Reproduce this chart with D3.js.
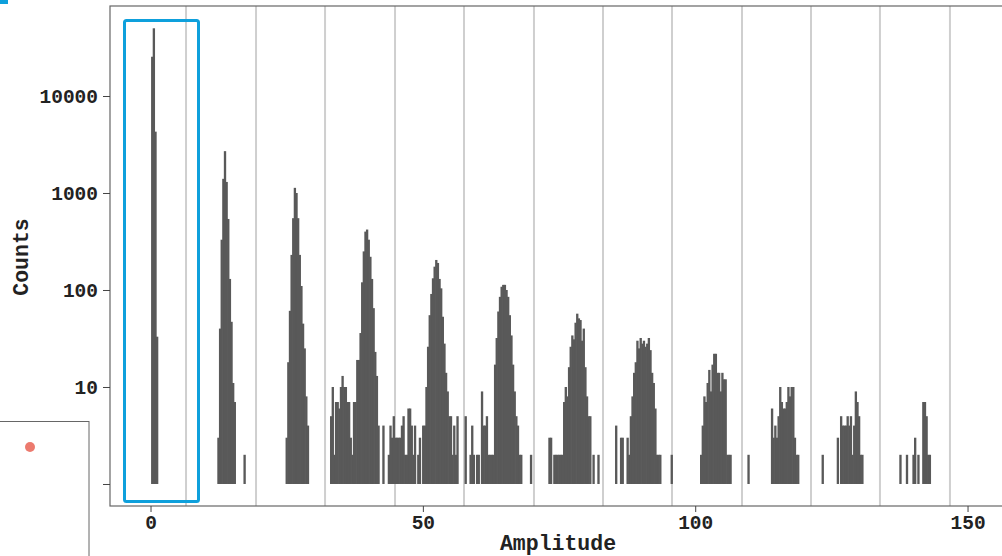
<!DOCTYPE html>
<html>
<head>
<meta charset="utf-8">
<script src="https://cdn.jsdelivr.net/npm/d3@7"></script>
<style>
  body { margin: 0; background: #fff; }
  svg { display: block; }
  .axis text { font-family: "Liberation Mono", "Courier New", monospace; font-weight: bold; font-size: 19.5px; fill: #222; }
  .axis line { stroke: #444; }
  .axis path { stroke: none; }
  .title { font-family: "Liberation Mono", "Courier New", monospace; font-weight: bold; font-size: 21.5px; fill: #222; }
</style>
</head>
<body>
<svg></svg>
<script>
const width = 1002;
const height = 556;

// histogram, bin width in amplitude units
const binWidth = 0.3;

// left edge (amplitude) of each run of bins
const clusterStarts = [0.1, 12.26, 24.79, 32.95, 43.55, 57.65, 73.03, 85.28, 100.88, 113.9, 125.98, 137.47];

// counts per bin, one array per photo-electron peak
const pe0 = [25400, 49900, 4290, 33];
const pe1 = [3, 40, 330, 1400, 2700, 1300, 540, 130, 47, 11, 7, 0, 0, 0, 0, 0, 2];
const pe2 = [3, 18, 61, 230, 550, 1130, 1000, 550, 230, 110, 45, 25, 8, 4];
const pe3 = [5, 10, 2, 7, 7, 6, 10, 13, 10, 10, 7, 7, 3, 2, 7, 7, 19, 19, 36, 120, 250, 400, 420, 330, 220, 130, 65, 23, 13, 4, 0, 0, 4];
const pe4 = [2, 4, 3, 5, 3, 3, 3, 3, 4, 5, 2, 2, 6, 6, 4, 2, 4, 0, 2, 3, 0, 4, 4, 10, 26, 55, 91, 132, 174, 204, 190, 130, 104, 53, 28, 14, 9, 5, 5, 2, 4, 2, 5];
const pe5 = [5, 0, 0, 2, 4, 2, 0, 2, 2, 0, 9, 4, 4, 5, 2, 2, 2, 2, 17, 32, 60, 85, 108, 113, 113, 100, 85, 55, 34, 17, 9, 5, 4, 2, 2, 0, 0, 0, 0, 0, 2];
const pe6 = [3, 3, 0, 2, 2, 2, 2, 2, 2, 7, 10, 8, 16, 26, 34, 31, 46, 57, 51, 49, 30, 40, 16, 8, 5, 5, 0, 2, 0, 0, 2];
const pe7 = [4, 0, 0, 3, 3, 0, 0, 3, 2, 5, 8, 14, 18, 30, 25, 32, 28, 30, 26, 28, 32, 24, 14, 11, 6, 2, 2, 2, 0, 0, 0, 0, 0, 0, 2];
const pe8 = [2, 4, 8, 7, 11, 15, 9, 17, 22, 22, 14, 14, 9, 14, 12, 12, 2, 2, 2, 0, 0, 0, 0, 0, 0, 0, 0, 0, 0, 2];
const pe9 = [6, 3, 4, 3, 5, 10, 7, 6, 6, 7, 10, 8, 10, 10, 3, 2, 2, 0, 0, 0, 0, 0, 0, 0, 0, 0, 0, 0, 0, 0, 0, 2];
const pe10 = [3, 0, 5, 4, 4, 4, 5, 4, 5, 2, 4, 9, 7, 5, 2, 2];
const pe11 = [2, 0, 0, 0, 2, 0, 0, 0, 2, 3, 0, 2, 0, 0, 7, 7, 5, 2, 2];

const clusters = [pe0, pe1, pe2, pe3, pe4, pe5, pe6, pe7, pe8, pe9, pe10, pe11];

// vertical reference lines between peaks
const gridAmps = [6.52, 19.37, 32.04, 44.89, 57.55, 70.4, 83.07, 95.74, 108.59, 121.26, 133.92, 146.77];

const xTicks = [0, 50, 100, 150];
const yTicks = [1, 10, 100, 1000, 10000];

const bins = [];
clusters.forEach((arr, ci) => {
    arr.forEach((c, i) => {
        if (c > 1) bins.push({x0: clusterStarts[ci] + i * binWidth, x1: clusterStarts[ci] + (i + 1) * binWidth, count: c});
    });
});

const plot = {left: 110, top: 6, right: 1006, bottom: 506};

const svg = d3.select('svg').attr('width', width).attr('height', height);

const x = d3.scaleLinear().domain([-7.44, 157.06]).range([plot.left, plot.right]);
const y = d3.scaleLog().domain([0.593, 84700]).range([plot.bottom, plot.top]);

svg.append('g').selectAll('line')
    .data(gridAmps).enter().append('line')
    .attr('x1', d => x(d)).attr('x2', d => x(d))
    .attr('y1', plot.top).attr('y2', plot.bottom)
    .attr('stroke', '#cfcfcf')
    .attr('stroke-width', 2);

// overlap neighbours a little so adjacent bins read as one solid shape
svg.append('g').selectAll('rect')
    .data(bins).enter().append('rect')
    .attr('x', d => x(d.x0))
    .attr('width', d => x(d.x1) - x(d.x0) + 0.7)
    .attr('y', d => y(d.count))
    .attr('height', d => y(1) - y(d.count))
    .attr('fill', '#595959');

svg.append('rect')
    .attr('x', plot.left).attr('y', plot.top)
    .attr('width', plot.right - plot.left).attr('height', plot.bottom - plot.top)
    .attr('fill', 'none')
    .attr('stroke', '#666')
    .attr('stroke-width', 1.2);

svg.append('g')
    .attr('class', 'axis')
    .attr('transform', `translate(${plot.left},0)`)
    .call(d3.axisLeft(y).tickValues(yTicks).tickSize(7).tickSizeOuter(0).tickPadding(5)
        .tickFormat(d => d === 1 ? '' : d));

svg.append('g')
    .attr('class', 'axis')
    .attr('transform', `translate(0,${plot.bottom})`)
    .call(d3.axisBottom(x).tickValues(xTicks).tickSize(6).tickSizeOuter(0).tickPadding(3));

svg.append('text')
    .attr('class', 'title')
    .attr('x', (plot.left + plot.right) / 2)
    .attr('y', 550)
    .attr('text-anchor', 'middle')
    .text('Amplitude');

svg.append('text')
    .attr('class', 'title')
    .attr('transform', 'translate(28,257) rotate(-90)')
    .attr('text-anchor', 'middle')
    .text('Counts');

// highlight box round the zero peak
svg.append('rect')
    .attr('x', 124.5).attr('y', 20.5)
    .attr('width', 74).attr('height', 481)
    .attr('rx', 2)
    .attr('fill', 'none')
    .attr('stroke', '#0ea0dc')
    .attr('stroke-width', 3);

svg.append('rect')
    .attr('x', 0).attr('y', 0)
    .attr('width', 8).attr('height', 4)
    .attr('fill', '#0ea0dc');

// overlapping panel at bottom left
svg.append('rect')
    .attr('x', -2).attr('y', 421.5)
    .attr('width', 91).attr('height', 150)
    .attr('fill', '#fff')
    .attr('stroke', '#666');

svg.append('circle')
    .attr('cx', 30).attr('cy', 447)
    .attr('r', 5)
    .attr('fill', '#ec7a6e');
</script>
</body>
</html>
